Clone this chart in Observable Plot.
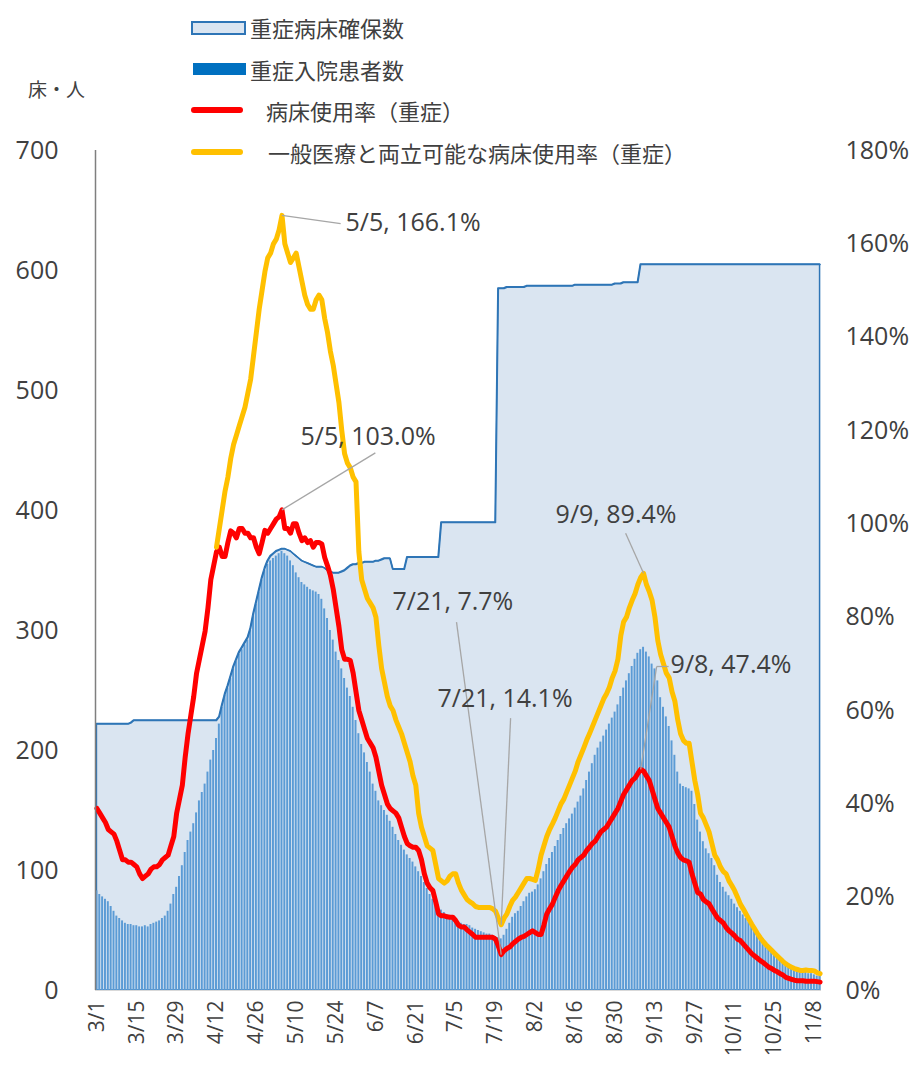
<!DOCTYPE html>
<html><head><meta charset="utf-8">
<script src="https://cdn.jsdelivr.net/npm/d3@7"></script>
<script src="https://cdn.jsdelivr.net/npm/@observablehq/plot@0.6"></script>
<style>
html,body{margin:0;padding:0;background:#fff;}
#wrap{position:relative;width:910px;height:1065px;overflow:hidden;font-family:"Noto Sans CJK JP","Open Sans",sans-serif;color:#404040;}
#chart{position:absolute;left:0;top:0;}
.lg{position:absolute;font-size:22px;line-height:22px;white-space:nowrap;color:#404040;}
.sw{position:absolute;}
</style></head><body>
<div id="wrap">
  <div id="chart"></div>
  <div class="lg" style="left:28px;top:78px;font-size:19px;">床・人</div>
  <div class="sw" style="left:191px;top:21px;width:51px;height:10px;background:#dae5f1;border:2px solid #2e75b6;"></div>
  <div class="lg" style="left:250px;top:16px;">重症病床確保数</div>
  <div class="sw" style="left:193px;top:63px;width:53px;height:12px;background:#0070c0;"></div>
  <div class="lg" style="left:250px;top:58px;">重症入院患者数</div>
  <div class="sw" style="left:191px;top:107px;width:52px;height:6px;border-radius:3px;background:#ff0000;"></div>
  <div class="lg" style="left:266px;top:99px;">病床使用率（重症）</div>
  <div class="sw" style="left:191px;top:149px;width:52px;height:6px;border-radius:3px;background:#ffc000;"></div>
  <div class="lg" style="left:268px;top:141px;">一般医療と両立可能な病床使用率（重症）</div>
</div>
<script>
// ---- data: daily values from 2021-03-01 to 2021-11-10 ----
const startYear = 2021, startMonth = 2, startDay = 1;

// 重症入院患者数 (persons)
const patients = [
  83, 80, 78, 76, 74, 70, 66, 62, 60, 58, 56, 55, 55, 54,
  54, 53, 53, 54, 53, 55, 56, 57, 58, 60, 62, 66, 72, 80,
  86, 95, 104, 115, 125, 132, 139, 148, 158, 165, 172, 182, 192, 200,
  210, 222, 236, 246, 252, 260, 268, 274, 280, 284, 288, 292, 300, 312,
  322, 332, 342, 350, 355, 358, 360, 362, 364, 366, 364, 362, 358, 354,
  348, 344, 340, 338, 336, 334, 333, 332, 330, 326, 318, 310, 300, 292,
  282, 275, 268, 260, 252, 245, 236, 225, 214, 205, 198, 190, 182, 172,
  166, 158, 154, 150, 146, 141, 136, 130, 125, 121, 117, 113, 110, 107,
  103, 99, 95, 90, 85, 80, 76, 73, 70, 67, 65, 63, 61, 59,
  58, 57, 56, 55, 55, 54, 52, 51, 50, 49, 48, 47, 47, 46,
  45, 44, 43, 46, 51, 56, 61, 64, 66, 70, 74, 78, 81, 82,
  84, 88, 93, 99, 105, 110, 115, 120, 125, 130, 135, 139, 143, 147,
  152, 157, 162, 168, 175, 182, 189, 196, 202, 207, 212, 217, 222, 227,
  232, 238, 245, 252, 258, 264, 270, 276, 281, 284, 286, 282, 278, 272,
  268, 258, 244, 236, 228, 220, 208, 196, 182, 172, 170, 169, 168, 166,
  155, 142, 132, 124, 118, 114, 110, 104, 96, 90, 86, 82, 79, 76,
  72, 69, 66, 63, 60, 57, 55, 52, 49, 46, 43, 40, 37, 34,
  31, 29, 27, 25, 23, 22, 20, 19, 18, 17, 16, 15, 14, 14,
  13, 12, 12
];

// 重症病床確保数 (beds)
const securedBeds = [
  222, 222, 222, 222, 222, 222, 222, 222, 222, 222, 222, 222, 223, 225,
  225, 225, 225, 225, 225, 225, 225, 225, 225, 225, 225, 225, 225, 225,
  225, 225, 225, 225, 225, 225, 225, 225, 225, 225, 225, 225, 225, 225,
  225, 228, 238, 247, 254, 262, 270, 276, 282, 286, 290, 294, 302, 314,
  324, 334, 344, 352, 358, 362, 364, 366, 367, 368, 368, 367, 366, 364,
  362, 360, 358, 357, 356, 355, 354, 353, 353, 353, 352, 350, 349, 348,
  348, 348, 349, 350, 352, 354, 355, 355, 356, 356, 357, 357, 357, 357,
  358, 358, 359, 360, 360, 360, 351, 351, 351, 351, 351, 361, 361, 361,
  361, 361, 361, 361, 361, 361, 361, 361, 361, 390, 390, 390, 390, 390,
  390, 390, 390, 390, 390, 390, 390, 390, 390, 390, 390, 390, 390, 390,
  390, 585, 585, 585, 586, 586, 586, 586, 586, 586, 586, 587, 587, 587,
  587, 587, 587, 587, 587, 587, 587, 587, 587, 587, 587, 587, 587, 587,
  588, 588, 588, 588, 588, 588, 588, 588, 588, 588, 588, 588, 588, 588,
  589, 589, 589, 590, 590, 590, 590, 590, 590, 605, 605, 605, 605, 605,
  605, 605, 605, 605, 605, 605, 605, 605, 605, 605, 605, 605, 605, 605,
  605, 605, 605, 605, 605, 605, 605, 605, 605, 605, 605, 605, 605, 605,
  605, 605, 605, 605, 605, 605, 605, 605, 605, 605, 605, 605, 605, 605,
  605, 605, 605, 605, 605, 605, 605, 605, 605, 605, 605, 605, 605, 605,
  605, 605, 605
];

// 病床使用率（重症） (%)
const bedRate = [
  39, 38, 37, 36, 34.5, 34, 33.5, 32, 30, 28, 28, 27.5, 27.5, 27,
  26.5, 25, 24, 24.5, 25, 26, 26.5, 26.5, 27, 28, 28.5, 29, 31, 33,
  38, 41, 44, 50, 55, 59, 63, 68, 71, 74, 77, 82, 88, 91,
  94, 95, 93, 93, 96, 98.5, 98, 97, 99, 99, 98, 98, 97, 97,
  95, 93.6, 96, 98.6, 98, 99, 100, 101, 101.5, 103.0, 99, 99, 98, 100,
  100, 98, 96.4, 97, 96, 96.4, 95, 96, 96, 95.7, 92.8, 91, 89, 86,
  82, 78, 73, 71, 71, 70.7, 68, 64, 60, 58, 56, 54, 53, 52,
  50, 47, 44, 42, 40, 39, 38.5, 38, 37, 35, 33, 31.5, 31, 30.7,
  30.7, 30, 28, 25, 23, 22, 21.4, 19, 16.4, 16, 16, 15.8, 15.7, 15.7,
  15, 14, 13.6, 13.6, 13, 12.5, 12, 11.4, 11.4, 11.4, 11.4, 11.4, 11.4, 11.4,
  11, 9.5, 7.7, 8.5, 9, 9.3, 10, 10.5, 11, 11.4, 11.6, 12, 12.4, 12.8,
  12.4, 12, 12, 14, 16.4, 17.5, 18.5, 20, 21.4, 22.5, 23.5, 24.5, 25.5, 26.4,
  27, 28, 28.5, 29, 30, 30.7, 31.5, 32, 33, 34, 34.5, 35, 36, 37,
  38, 39, 40.5, 42, 43, 44, 45, 45.5, 46.5, 47.4, 47, 46, 45, 43,
  41, 39, 38, 37, 36, 35, 33, 31, 29.5, 28.5, 28, 27.8, 27.5, 25,
  23, 21, 20.7, 19.5, 19, 18.6, 17.5, 16.5, 15.5, 15, 14.5, 13.5, 12.8, 12.3,
  11.7, 11, 10.7, 10, 9.3, 8.6, 7.9, 7.4, 6.9, 6.4, 6, 5.5, 5, 4.7,
  4.3, 4, 3.6, 3.3, 2.8, 2.6, 2.4, 2.2, 2.1, 2.1, 2.1, 2, 2, 2,
  2, 1.9, 1.8
];

// 一般医療と両立可能な病床使用率（重症） (%), reported from 4/12
const compatRate = [
  null, null, null, null, null, null, null, null, null, null, null, null, null, null,
  null, null, null, null, null, null, null, null, null, null, null, null, null, null,
  null, null, null, null, null, null, null, null, null, null, null, null, null, null,
  95, 99, 103, 107, 110, 114, 117, 119, 121, 123, 125, 128, 131, 136,
  141, 146, 150, 154, 157, 158, 160, 161, 163, 166.1, 160, 158, 156, 157,
  158, 155, 152, 149, 147, 146, 146, 148, 149, 148, 144, 141, 137, 134,
  130, 126, 120, 115, 113, 112, 110, 109, 94, 88, 86, 84, 83, 82,
  80, 74, 69, 66, 63, 61, 60, 58, 56.5, 55, 53, 51, 49, 46,
  44, 38, 35, 33, 31, 30.5, 30, 27, 24, 23.5, 23, 23.5, 24.5, 25,
  25, 23, 21.5, 20.5, 19.5, 19, 18.6, 18, 17.8, 17.8, 17.8, 17.8, 17.8, 17.5,
  17, 15.5, 14.1, 15.5, 16.4, 18, 19.3, 20, 21, 22, 23, 24, 24, 23.8,
  23.6, 26, 29, 31, 33, 34.5, 35.7, 37, 38.5, 40, 41, 42.5, 44, 45.5,
  47, 49, 50.5, 52, 53.6, 55, 56.5, 58, 59.5, 61, 62.5, 63.6, 65, 67,
  68.5, 71, 76, 79, 80, 82, 83.6, 85, 87, 88.5, 89.4, 87, 85.5, 83.6,
  80, 75, 72, 70, 68, 67, 64, 62, 58, 55, 53.6, 53, 53, 49,
  45, 42, 38, 37, 35.5, 34, 31.5, 29, 28, 26.5, 25.5, 25, 23.5, 22.5,
  21.4, 20, 18.5, 17.5, 16.4, 15.3, 14.2, 13.2, 12.2, 11.3, 10.5, 9.8, 9.2, 8.6,
  8, 7.4, 6.8, 6.2, 5.7, 5.3, 5, 4.7, 4.5, 4.3, 4.3, 4.4, 4.3, 4.3,
  4.2, 3.8, 3.6
];

const xTickLabels = ["3/1","3/15","3/29","4/12","4/26","5/10","5/24","6/7","6/21","7/5","7/19","8/2","8/16","8/30","9/13","9/27","10/11","10/25","11/8"];
const leftTicks = [0, 100, 200, 300, 400, 500, 600, 700];
const rightTickPct = [0, 20, 40, 60, 80, 100, 120, 140, 160, 180];

// annotations: data point (day index, series) and label placement (day, left-axis value)
const annotations = [
  {text: "5/5, 166.1%", day: 65, series: "compat", labelDay: 87.8, labelV: 640, path: [[86.1, 639]]},
  {text: "5/5, 103.0%", day: 65, series: "bed", labelDay: 72.0, labelV: 461, path: [[98.3, 448]]},
  {text: "9/9, 89.4%", day: 192, series: "compat", labelDay: 161.6, labelV: 396, path: [[186.2, 381]]},
  {text: "7/21, 7.7%", day: 142, series: "bed", labelDay: 104.3, labelV: 324, path: [[126.8, 307]]},
  {text: "7/21, 14.1%", day: 142, series: "compat", labelDay: 120.1, labelV: 243, path: [[145.8, 227]]},
  {text: "9/8, 47.4%", day: 191, series: "bed", labelDay: 202, labelV: 271, path: [[197.1, 270], [201.3, 270]]}
];

// ---- build ----
const DAY = 864e5;
const t0 = new Date(startYear, startMonth, startDay).getTime();
const atDay = d => new Date(t0 + d * DAY);
const pctToY = p => p * 700 / 180;

const rows = patients.map((v, i) => ({
  i,
  date: atDay(i + 0.5),
  x1: atDay(i),
  x2: atDay(i + 1),
  patients: v,
  beds: securedBeds[i],
  bed: bedRate[i] == null ? null : pctToY(bedRate[i]),
  compat: compatRate[i] == null ? null : pctToY(compatRate[i])
}));

const tickDates = xTickLabels.map((s, k) => atDay(k * 14 + 0.5));
const labelMap = new Map(tickDates.map((d, k) => [+d, xTickLabels[k]]));

const links = [];
for (const a of annotations) {
  const pt = [atDay(a.day + 0.5), rows[a.day][a.series]];
  const pts = [pt, ...a.path.map(([d, v]) => [atDay(d), v])];
  for (let k = 0; k < pts.length - 1; k++) links.push({x1: pts[k][0], y1: pts[k][1], x2: pts[k + 1][0], y2: pts[k + 1][1]});
}
const labels = annotations.map(a => ({x: atDay(a.labelDay), y: a.labelV, text: a.text}));

const chart = Plot.plot({
  width: 910,
  height: 1065,
  marginTop: 150,
  marginBottom: 75,
  marginLeft: 95,
  marginRight: 89,
  style: {fontFamily: "'Open Sans', sans-serif", color: "#404040", background: "transparent", overflow: "visible"},
  x: {type: "time", domain: [atDay(0), atDay(patients.length)]},
  y: {domain: [0, 700]},
  marks: [
    Plot.areaY(rows, {x: "date", y: "beds", fill: "#dae5f1", stroke: "#2e75b6", strokeWidth: 1.5}),
    Plot.rectY(rows, {x1: "x1", x2: "x2", y: "patients", fill: "#5b9bd5", insetLeft: 0.45, insetRight: 0.45}),
    Plot.lineY(rows, {x: "date", y: "beds", stroke: "#2e75b6", strokeWidth: 1.5}),
    Plot.lineY(rows, {x: "date", y: "bed", stroke: "#ff0000", strokeWidth: 5, strokeLinejoin: "round", strokeLinecap: "round"}),
    Plot.lineY(rows, {x: "date", y: "compat", stroke: "#ffc000", strokeWidth: 5, strokeLinejoin: "round", strokeLinecap: "round", defined: d => d.compat != null}),
    Plot.link(links, {x1: "x1", y1: "y1", x2: "x2", y2: "y2", stroke: "#a6a6a6", strokeWidth: 1.3}),
    Plot.text(labels, {x: "x", y: "y", text: "text", textAnchor: "start", fontSize: 25, fill: "#404040"}),
    Plot.ruleX([atDay(0)], {y1: 0, y2: 700, stroke: "#7f7f7f", strokeWidth: 1.5}),
    Plot.ruleY([0], {stroke: "#d9d9d9"}),
    Plot.axisY(leftTicks, {anchor: "left", tickSize: 0, tickPadding: 37, fontSize: 25, tickFormat: d => String(d)}),
    Plot.axisY(rightTickPct.map(pctToY), {anchor: "right", tickSize: 0, tickPadding: 24, fontSize: 25, tickFormat: v => Math.round(v * 180 / 700) + "%"}),
    Plot.axisX(tickDates, {anchor: "bottom", tickSize: 0, tickPadding: 10, tickRotate: -90, fontSize: 21, tickFormat: d => labelMap.get(+d)})
  ]
});
document.getElementById("chart").appendChild(chart);
</script>
</body></html>
